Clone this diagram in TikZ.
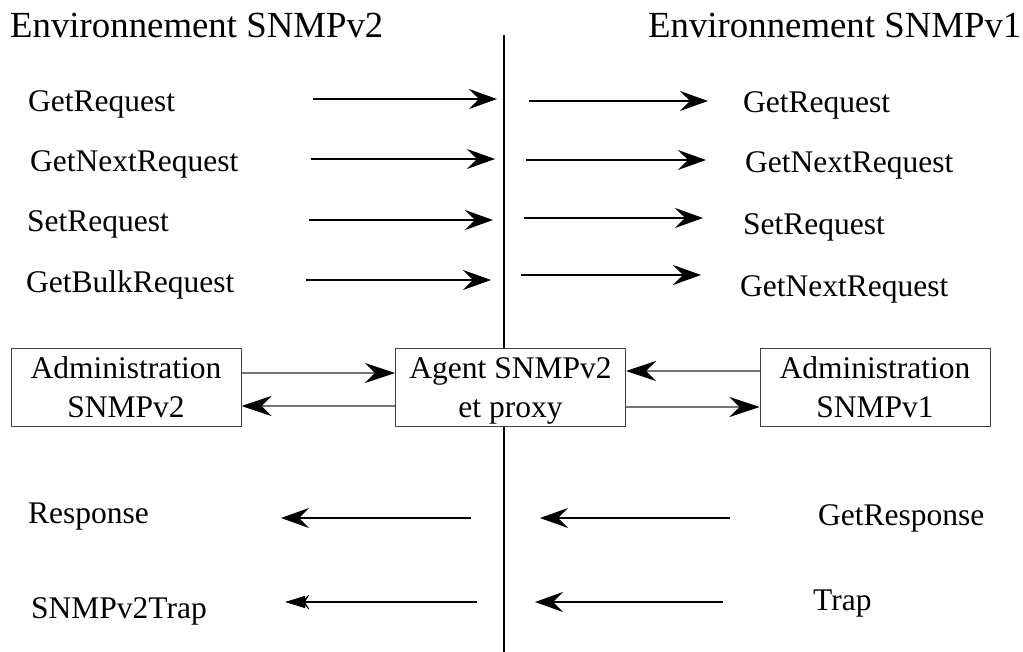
\documentclass[tikz,border=0pt]{standalone}
\usepackage{fontspec}
\setmainfont{Liberation Serif}
\usetikzlibrary{arrows.meta}
\begin{document}
\begin{tikzpicture}[x=1pt,y=-1pt,
  title/.style={anchor=base west,inner sep=0pt,font=\fontsize{36.8}{44}\selectfont},
  lbl/.style={anchor=base west,inner sep=0pt,font=\fontsize{31.5}{39}\selectfont},
  box/.style={draw=black!75,fill=white,line width=1pt,minimum width=230pt,minimum height=77pt,inner sep=0pt,align=center,font=\fontsize{31.5}{39}\selectfont},
  msg/.style={line width=1.2pt,-{Stealth[length=28pt,width=20pt,inset=10pt]}},
  conn/.style={draw=black!55,line width=1.3pt,-{Stealth[black,length=30pt,width=20pt,inset=10pt]}},
  sep/.style={line width=1.3pt}]
\useasboundingbox (0,0) rectangle (1023,652);
% separator
\coordinate (top) at (504,35);
\coordinate (bot) at (504,652);
\draw[sep] (top) -- (bot);
% titles
\node[title] (t2) at (10,38) {Environnement SNMPv2};
\node[title] (t1) at (648,38) {Environnement SNMPv1};
% left labels
\node[lbl] (l1) at (28,112) {GetRequest};
\node[lbl] (l2) at (30,172) {GetNextRequest};
\node[lbl] (l3) at (27,232) {SetRequest};
\node[lbl] (l4) at (26,293) {GetBulkRequest};
% right labels
\node[lbl] (r1) at (743,113) {GetRequest};
\node[lbl] (r2) at (745,173) {GetNextRequest};
\node[lbl] (r3) at (743,235) {SetRequest};
\node[lbl] (r4) at (740,297) {GetNextRequest};
% request arrows
\coordinate (la1) at (313,99);  \coordinate (lb1) at (497,99);
\coordinate (la2) at (311,159); \coordinate (lb2) at (495,159);
\coordinate (la3) at (309,220); \coordinate (lb3) at (493,220);
\coordinate (la4) at (306,280); \coordinate (lb4) at (491,280);
\coordinate (ra1) at (529,101); \coordinate (rb1) at (708,101);
\coordinate (ra2) at (526,160); \coordinate (rb2) at (706,160);
\coordinate (ra3) at (524,218); \coordinate (rb3) at (703,218);
\coordinate (ra4) at (521,275); \coordinate (rb4) at (701,275);
\foreach \i in {1,2,3,4}{
  \draw[msg] (la\i) -- (lb\i);
  \draw[msg] (ra\i) -- (rb\i);
}
% boxes
\node[box] (adm2) at (126,387.5) {Administration\\SNMPv2};
\node[box] (agent) at (510.5,387.5) {Agent SNMPv2\\\smash{et proxy}};
\node[box] (adm1) at (875,387.5) {Administration\\SNMPv1};
\draw[conn] ([yshift=14.5pt]adm2.east) -- ([yshift=14.5pt]agent.west);
\draw[conn] ([yshift=-18.5pt]agent.west) -- ([yshift=-18.5pt]adm2.east);
\draw[conn] ([yshift=16.5pt]adm1.west) -- ([yshift=16.5pt]agent.east);
\draw[conn] ([yshift=-19.5pt]agent.east) -- ([yshift=-19.5pt]adm1.west);
% responses
\node[lbl] (resp) at (28,523) {Response};
\node[lbl] (trap2) at (31,618) {SNMPv2Trap};
\node[lbl] (gresp) at (818,525) {GetResponse};
\node[lbl] (trap1) at (813,610) {Trap};
\coordinate (pa1) at (471,518); \coordinate (pb1) at (281,518);
\coordinate (qa1) at (730,518); \coordinate (qb1) at (540,518);
\coordinate (pa2) at (477,602); \coordinate (pb2) at (285,602);
\coordinate (qa2) at (723,602); \coordinate (qb2) at (535,602);
\draw[msg] (pa1) -- (pb1);
\draw[msg] (qa1) -- (qb1);
\draw[msg] (qa2) -- (qb2);
\draw[line width=1.2pt,-{Stealth[length=9pt,width=20pt,inset=6pt,sep=-3pt] Triangle[length=20pt,width=12pt]}] (pa2) -- (pb2);
\end{tikzpicture}
\end{document}
